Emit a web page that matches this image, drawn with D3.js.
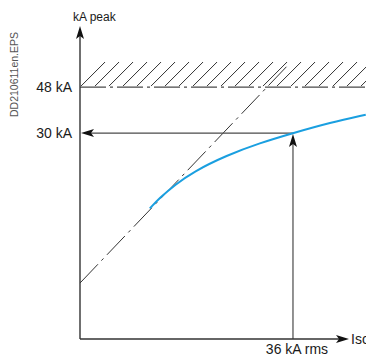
<!DOCTYPE html>
<html>
<head>
<meta charset="utf-8">
<script src="https://cdn.jsdelivr.net/npm/d3@7"></script>
<style>
  html, body { margin: 0; padding: 0; background: #fff; }
  svg { display: block; font-family: "Liberation Sans", Arial, Helvetica, sans-serif; }
</style>
</head>
<body>
<svg id="chart" width="366" height="356"></svg>
<script>
// ---- data (kA) ----
const yTickValues = [48, 30];
const yTickLabels = ["48 kA", "30 kA"];
const xMarkValue = 36;
const xMarkLabel = "36 kA rms";
const yAxisTitle = "kA peak";
const xAxisTitle = "Isc";
const sideNote = "DD210611en.EPS";

// limited peak current curve (x: kA rms, y: kA peak)
const curveX = [11.8, 13.5, 16.1, 19.1, 24.8, 30.4, 36.0, 42.3, 48.3];
const curveY = [0.5, 4.7, 9.8, 14.8, 21.3, 26.1, 30.0, 34.1, 37.2];

// unlimited (prospective) peak line, dash-dot
const lineX = [0, 35.0];
const lineY = [-28.7, 56.2];

// hatched zone (kA peak)
const hatchBottom = 48;
const hatchTop = 57.8;

// ---- scales ----
const x = d3.scaleLinear().domain([0, 45.3]).range([80, 348]);
const y = d3.scaleLinear().domain([-50.6, 71.9]).range([339, 26]);

const svg = d3.select("#chart");
const lineColor = "#4a4a4a";

// hatch region
svg.append("clipPath").attr("id", "hclip")
  .append("rect")
  .attr("x", x(0)).attr("y", y(hatchTop))
  .attr("width", 366 - x(0)).attr("height", y(hatchBottom) - y(hatchTop));
const hg = svg.append("g").attr("clip-path", "url(#hclip)");
const hh = y(hatchBottom) - 1 - y(hatchTop);
for (let px = x(0) + 1; px < 366 + 14; px += 14) {
  hg.append("line")
    .attr("x1", px).attr("y1", y(hatchBottom) - 1)
    .attr("x2", px + hh).attr("y2", y(hatchTop))
    .attr("stroke", "#333").attr("stroke-width", 1);
}

// 48 kA dash-dot line
svg.append("line")
  .attr("x1", x(0)).attr("x2", 366)
  .attr("y1", y(48)).attr("y2", y(48))
  .attr("stroke", lineColor).attr("stroke-width", 1.2)
  .attr("stroke-dasharray", "26,4,3,4");

// diagonal dash-dot
svg.append("line")
  .attr("x1", x(lineX[0])).attr("y1", y(lineY[0]))
  .attr("x2", x(lineX[1])).attr("y2", y(lineY[1]))
  .attr("stroke", "#333").attr("stroke-width", 1)
  .attr("stroke-dasharray", "26,5,3,5");

// 30 kA horizontal line to curve
svg.append("line")
  .attr("x1", x(0) + 8).attr("x2", x(xMarkValue))
  .attr("y1", y(30)).attr("y2", y(30))
  .attr("stroke", lineColor).attr("stroke-width", 1.2);

// vertical line at 36 kA
svg.append("line")
  .attr("x1", x(xMarkValue)).attr("x2", x(xMarkValue))
  .attr("y1", y(30) + 8).attr("y2", y.range()[0])
  .attr("stroke", lineColor).attr("stroke-width", 1.2);

// blue curve
const pts = curveX.map((v, i) => [v, curveY[i]]);
svg.append("path")
  .datum(pts)
  .attr("d", d3.line().x(d => x(d[0])).y(d => y(d[1])).curve(d3.curveBasis))
  .attr("fill", "none").attr("stroke", "#1a9fe0").attr("stroke-width", 2);

// axes
svg.append("line")
  .attr("x1", x(0)).attr("x2", x(0))
  .attr("y1", y.range()[0]).attr("y2", y.range()[1] + 6)
  .attr("stroke", "#333").attr("stroke-width", 1.4);
svg.append("line")
  .attr("x1", x(0)).attr("x2", x.range()[1] - 6)
  .attr("y1", y.range()[0]).attr("y2", y.range()[0])
  .attr("stroke", "#333").attr("stroke-width", 1.4);

// arrowheads
function arrow(tx, ty, dir) {
  const L = 13, W = 4;
  let p;
  if (dir === "up") p = [[tx, ty], [tx - W, ty + L], [tx, ty + L - 3], [tx + W, ty + L]];
  if (dir === "left") p = [[tx, ty], [tx + L, ty - W], [tx + L - 3, ty], [tx + L, ty + W]];
  if (dir === "right") p = [[tx, ty], [tx - L, ty - W], [tx - L + 3, ty], [tx - L, ty + W]];
  svg.append("path").attr("d", "M" + p.map(q => q.join(",")).join("L") + "Z").attr("fill", "#111");
}
arrow(x(0), y.range()[1], "up");
arrow(x.range()[1] + 1, y.range()[0], "right");
arrow(x(0) + 1, y(30), "left");
arrow(x(xMarkValue), y(30) + 1, "up");

// labels
yTickValues.forEach((v, i) => {
  svg.append("text")
    .attr("x", x(0) - 8).attr("y", y(v))
    .attr("dy", "0.36em")
    .attr("text-anchor", "end")
    .attr("font-size", 14).attr("fill", "#1a1a1a")
    .text(yTickLabels[i]);
});
svg.append("text")
  .attr("x", x(xMarkValue) + 4).attr("y", 354)
  .attr("text-anchor", "middle")
  .attr("font-size", 14).attr("fill", "#1a1a1a")
  .text(xMarkLabel);
svg.append("text")
  .attr("x", x(0) - 7).attr("y", 21)
  .attr("font-size", 12).attr("fill", "#1a1a1a")
  .text(yAxisTitle);
svg.append("text")
  .attr("x", x.range()[1] + 3).attr("y", y.range()[0] + 5)
  .attr("font-size", 14).attr("fill", "#1a1a1a")
  .text(xAxisTitle);
svg.append("text")
  .attr("transform", "translate(18,117) rotate(-90)")
  .attr("font-size", 10.5).attr("fill", "#555")
  .text(sideNote);
</script>
</body>
</html>
